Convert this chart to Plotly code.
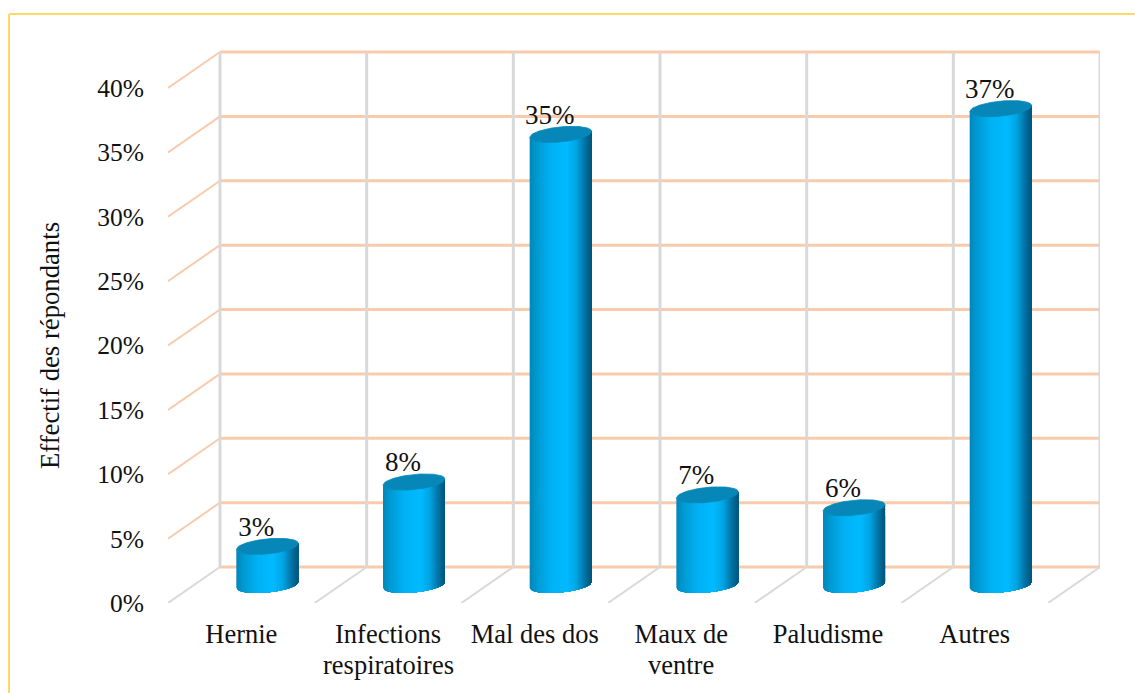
import numpy as np
import plotly.graph_objects as go

# ---- data ----
categories = ["Hernie", "Infections<br>respiratoires", "Mal des dos", "Maux de<br>ventre", "Paludisme", "Autres"]
values = [3, 8, 35, 7, 6, 37]
value_ticks = [0, 5, 10, 15, 20, 25, 30, 35, 40]
axis_title = "Effectif des répondants"

# ---- geometry of the oblique view ----
W, H = 1135, 693
LEFT, RIGHT, TOP, BOTTOM = 168, 1100, 40, 603
PX_X = 146.67            # pixels per category
PX_Y = 12.875            # pixels per percent
DEPTH_X = 52 / PX_X      # shift of back wall
DEPTH_Y = 36 / PX_Y
R_X = 31 / PX_X          # cylinder half width
R_Y = 7.5 / PX_Y         # ellipse half height
TILT = 3.0 / PX_Y        # ellipse tilt
N_BANDS = 62
FONT = "Liberation Serif"
TXT = "#111111"
PEACH = "#F8CBAD"
GRAY = "#D9D9D9"

STOPS_U = [-1.0, -0.75, -0.3, 0.2, 0.5, 0.8, 1.0]
STOPS_C = [(0, 135, 185), (0, 155, 212), (0, 178, 245), (0, 186, 255), (0, 165, 228), (0, 112, 160), (0, 84, 122)]


def shade(u):
    rgb = [np.interp(u, STOPS_U, [c[k] for c in STOPS_C]) for k in range(3)]
    return "rgb(%d,%d,%d)" % tuple(round(v) for v in rgb)


def lower(u):
    return TILT * u - R_Y * np.sqrt(np.clip(1 - u * u, 0, 1))


def upper(u):
    return TILT * u + R_Y * np.sqrt(np.clip(1 - u * u, 0, 1))


fig = go.Figure()


def add_lines(xs, ys, color, width):
    fig.add_trace(go.Scatter(x=xs, y=ys, mode="lines", line=dict(color=color, width=width),
                             hoverinfo="skip", showlegend=False, cliponaxis=False))


# back wall horizontals and side wall diagonals
hx, hy, dx, dy = [], [], [], []
for t in value_ticks:
    hx += [DEPTH_X, len(categories) + DEPTH_X, None]
    hy += [t + DEPTH_Y, t + DEPTH_Y, None]
    if t > 0:
        dx += [0, DEPTH_X, None]
        dy += [t, t + DEPTH_Y, None]
add_lines(hx, hy, PEACH, 3)
add_lines(dx, dy, PEACH, 2)

# back wall verticals and floor diagonals
vx, vy, fx, fy = [], [], [], []
for i in range(len(categories) + 1):
    vx += [i + DEPTH_X, i + DEPTH_X, None]
    vy += [DEPTH_Y, value_ticks[-1] + DEPTH_Y, None]
    fx += [i, i + DEPTH_X, None]
    fy += [0, DEPTH_Y, None]
add_lines(vx, vy, GRAY, 3)
add_lines(fx, fy, GRAY, 2)

# cylinder bodies: painter's bands, each reaching the right edge, so no seams appear
edges = np.linspace(-1, 1, N_BANDS + 1)
for b in range(N_BANDS):
    us = np.linspace(edges[b], 1, max(3, (N_BANDS - b) // 2 + 2))
    px, py = [], []
    for i, v in enumerate(values):
        cx = i + 0.5 + DEPTH_X / 2
        cy = DEPTH_Y / 2
        xs = cx + us * R_X
        px += list(xs) + list(xs[::-1]) + [None]
        py += list(cy + lower(us)) + list((cy + v + lower(us))[::-1]) + [None]
    col = shade((edges[b] + edges[b + 1]) / 2)
    fig.add_trace(go.Scatter(x=px, y=py, mode="lines", fill="toself", fillcolor=col,
                             line=dict(color=col, width=0), hoverinfo="skip", showlegend=False))

# cylinder caps
ang = np.linspace(-1, 1, 60)
cap_x, cap_y = [], []
for i, v in enumerate(values):
    cx = i + 0.5 + DEPTH_X / 2
    cy = DEPTH_Y / 2 + v
    cap_x += list(cx + ang * R_X) + list(cx + ang[::-1] * R_X) + [None]
    cap_y += list(cy + upper(ang)) + list(cy + lower(ang[::-1])) + [None]
fig.add_trace(go.Scatter(x=cap_x, y=cap_y, mode="lines", fill="toself", fillcolor="#0787B8",
                         line=dict(color="#0787B8", width=0.8), hoverinfo="skip", showlegend=False))

# value labels
fig.add_trace(go.Scatter(
    x=[i + 0.5 + DEPTH_X / 2 - 11 / PX_X for i in range(len(values))],
    y=[v + DEPTH_Y / 2 + 17.5 / PX_Y for v in values],
    mode="text", text=["%d%%" % v for v in values], textposition="middle center",
    textfont=dict(family=FONT, size=27, color=TXT), cliponaxis=False,
    hoverinfo="skip", showlegend=False))

# second line of the two-line category labels (tighter leading than <br> gives)
first_lines = [c.split("<br>")[0] for c in categories]
second_lines = [dict(text=c.split("<br>")[1], x=i + 0.5, xref="x", yref="paper",
                     y=(BOTTOM - 665) / (BOTTOM - TOP), showarrow=False, xanchor="center", yanchor="middle",
                     font=dict(family=FONT, size=26.5, color=TXT))
                for i, c in enumerate(categories) if "<br>" in c]

fig.update_layout(
    width=W, height=H, autosize=False,
    margin=dict(l=LEFT, r=W - RIGHT, t=TOP, b=H - BOTTOM, pad=0),
    paper_bgcolor="white", plot_bgcolor="white",
    font=dict(family=FONT, size=26, color=TXT),
    xaxis=dict(range=[0, (RIGHT - LEFT) / PX_X], showgrid=False, zeroline=False, showline=False, automargin=False,
               tickmode="array", tickvals=[i + 0.5 for i in range(len(categories))], ticktext=first_lines,
               ticks="outside", ticklen=7, tickcolor="rgba(0,0,0,0)", tickangle=0,
               tickfont=dict(family=FONT, size=26.5, color=TXT)),
    yaxis=dict(range=[0, (BOTTOM - TOP) / PX_Y], showgrid=False, zeroline=False, showline=False, automargin=False,
               tickmode="array", tickvals=value_ticks, ticktext=["%d%%" % t for t in value_ticks],
               ticks="outside", ticklen=18, tickcolor="rgba(0,0,0,0)",
               tickfont=dict(family=FONT, size=25.5, color=TXT)),
    annotations=[dict(text=axis_title, textangle=-90, showarrow=False, xref="paper", yref="paper",
                      x=(50 - LEFT) / (RIGHT - LEFT), y=(BOTTOM - 346) / (BOTTOM - TOP),
                      xanchor="center", yanchor="middle", font=dict(family=FONT, size=26.7, color=TXT))] + second_lines,
    shapes=[
        dict(type="line", xref="paper", yref="paper", x0=(9 - LEFT) / (RIGHT - LEFT), x1=(W - LEFT) / (RIGHT - LEFT),
             y0=(BOTTOM - 14) / (BOTTOM - TOP), y1=(BOTTOM - 14) / (BOTTOM - TOP), line=dict(color="#FFD966", width=2)),
        dict(type="line", xref="paper", yref="paper", x0=(9 - LEFT) / (RIGHT - LEFT), x1=(9 - LEFT) / (RIGHT - LEFT),
             y0=(BOTTOM - 14) / (BOTTOM - TOP), y1=(BOTTOM - H) / (BOTTOM - TOP), line=dict(color="#FFD966", width=2)),
    ],
)

fig.write_html("out.html", config=dict(displayModeBar=False),
               post_script="document.body.style.margin='0';document.body.style.overflow='hidden';")
